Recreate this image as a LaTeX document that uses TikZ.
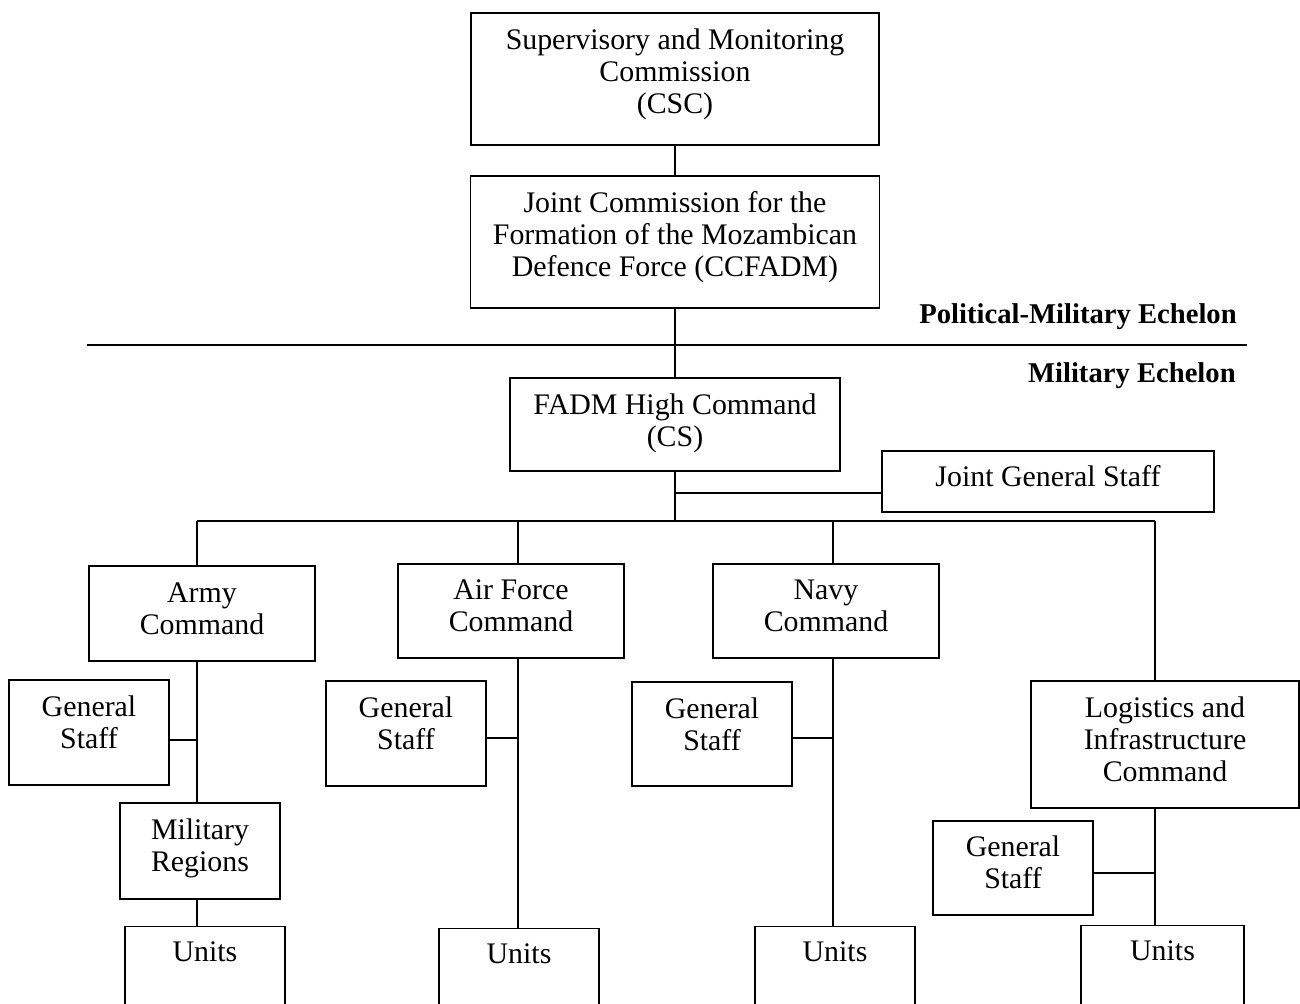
\documentclass[tikz,border=0pt]{standalone}
\usepackage{fontspec}
\setmainfont{Liberation Serif}
\usepackage{tikz}
\usetikzlibrary{positioning}

\begin{document}
\begin{tikzpicture}[x=0.02cm, y=-0.02cm,
  every node/.style={font=\fontsize{17}{18.2}\selectfont},
  box/.style={draw, line width=0.8pt, align=center, inner sep=0pt},
  staffbox/.style={box, minimum width=3.2cm, minimum height=2.1cm, text depth=11.3pt},
  unitbox/.style={box, anchor=north, minimum width=3.2cm, text height=0.7cm, text depth=2cm},
  link/.style={line width=0.8pt},
  echelon/.style={anchor=base east, inner sep=0pt, font=\fontsize{16.3}{18.2}\selectfont\bfseries}]

\clip (0,0) rectangle (1300,1003);

% political-military echelon
\node[box, minimum width=8.16cm, minimum height=2.64cm, text depth=8.7pt] (csc) at (675,79) {Supervisory and Monitoring\\Commission\\(CSC)};
\node[box, minimum width=8.18cm, minimum height=2.64cm, text depth=8.7pt] (ccf) at (675,242) {Joint Commission for the\\Formation of the Mozambican\\Defence Force (CCFADM)};

\node[echelon] (polmil) at (1237,323) {Political-Military Echelon};
\node[echelon] (mil) at (1236,382) {Military Echelon};

\coordinate (sepL) at (87,345);
\coordinate (sepR) at (1247,345);
\draw[link] (sepL) -- (sepR);

% military echelon
\node[box, minimum width=6.6cm, minimum height=1.86cm, text depth=5.3pt] (fadm) at (675,424.5) {FADM High Command\\(CS)};
\node[box, minimum width=6.64cm, minimum height=1.22cm, text depth=6pt] (jgs) at (1048,481.5) {Joint General Staff};

\node[box, minimum width=4.52cm, minimum height=1.9cm, text depth=5.7pt] (army) at (202,613.5) {Army\\Command};
\node[box, minimum width=4.52cm, minimum height=1.88cm, text depth=5.7pt] (air) at (511,611) {Air Force\\Command};
\node[box, minimum width=4.52cm, minimum height=1.88cm, text depth=5.7pt] (navy) at (826,611) {Navy\\Command};
\node[box, minimum width=5.36cm, minimum height=2.54cm, text depth=5.7pt] (log) at (1165,744.5) {Logistics and\\Infrastructure\\Command};

\node[staffbox] (gs1) at (89,732.5) {General\\Staff};
\node[staffbox] (gs2) at (406,733.5) {General\\Staff};
\node[staffbox, minimum height=2.08cm] (gs3) at (712,734) {General\\Staff};
\node[staffbox, minimum height=1.88cm, text depth=6.8pt] (gs4) at (1013,868) {General\\Staff};

\node[box, minimum width=3.2cm, minimum height=1.92cm, text depth=7.1pt] (mr) at (200,851) {Military\\Regions};

\node[unitbox] (units1) at (205,926) {Units};
\node[unitbox] (units2) at (519,928) {Units};
\node[unitbox] (units3) at (835,926) {Units};
\node[unitbox, minimum width=3.26cm] (units4) at (1162.5,925) {Units};

% connectors
\coordinate (armyx) at (197,521);
\coordinate (airx) at (518,521);
\coordinate (navyx) at (833,521);
\coordinate (logx) at (1155,521);

\draw[link] (csc.south) -- (ccf.north);
\draw[link] (ccf.south) -- (fadm.north);
\draw[link] (fadm.south) -- (fadm.south |- armyx);
\draw[link] ([yshift=-0.23cm]jgs.west) -- ++(-207,0);
\draw[link] (armyx) -- (logx);

\draw[link] (armyx) -- (armyx |- army.north);
\draw[link] (army.south -| armyx) -- (armyx |- mr.north);
\draw[link] (mr.south -| armyx) -- (armyx |- units1.north);
\draw[link] ([yshift=-0.15cm]gs1.east) -- ++(28,0);

\draw[link] (airx) -- (airx |- air.north);
\draw[link] (air.south -| airx) -- (airx |- units2.north);
\draw[link] ([yshift=-0.09cm]gs2.east) -- ++(32,0);

\draw[link] (navyx) -- (navyx |- navy.north);
\draw[link] (navy.south -| navyx) -- (navyx |- units3.north);
\draw[link] ([yshift=-0.08cm]gs3.east) -- ++(41,0);

\draw[link] (logx) -- (logx |- log.north);
\draw[link] (log.south -| logx) -- (logx |- units4.north);
\draw[link] ([yshift=-0.1cm]gs4.east) -- ++(62,0);

\end{tikzpicture}
\end{document}
